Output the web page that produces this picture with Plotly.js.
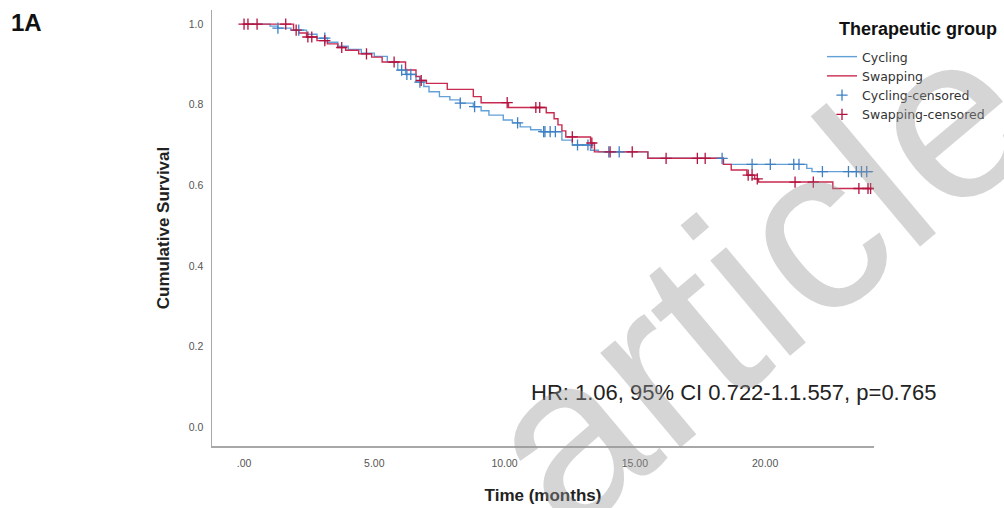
<!DOCTYPE html>
<html>
<head>
<meta charset="utf-8">
<script src="https://cdn.plot.ly/plotly-3.0.1.min.js"></script>
<style>html,body{margin:0;padding:0;background:#fff;}#chart{width:1004px;height:508px;}</style>
</head>
<body>
<div id="chart"></div>
<script>
// ---- data (time in months, cumulative survival) ----
const cyclingTimes = [0, 1.0, 1.3, 1.8, 2.4, 2.8, 3.2, 3.6, 4.0, 4.5, 5.0, 5.5, 5.9, 6.2, 6.6, 6.9, 7.1, 7.5, 7.9, 8.3, 8.8, 9.1, 9.4, 9.95, 10.3, 10.6, 11.0, 11.4, 12.2, 12.6, 13.3, 13.6, 15.5, 18.4, 21.6, 21.8, 24.15];
const cyclingSurv  = [1.0, 0.995, 0.99, 0.985, 0.975, 0.965, 0.955, 0.945, 0.937, 0.928, 0.92, 0.905, 0.886, 0.875, 0.856, 0.845, 0.832, 0.82, 0.812, 0.804, 0.795, 0.785, 0.774, 0.762, 0.755, 0.745, 0.738, 0.733, 0.712, 0.70, 0.687, 0.683, 0.667, 0.652, 0.642, 0.634, 0.634];
const cyclingCensored = [1.3, 2.1, 3.1, 6.05, 6.25, 6.4, 6.75, 8.3, 8.85, 10.5, 11.5, 11.55, 11.75, 11.95, 12.8, 13.2, 14.0, 14.4, 18.35, 19.5, 20.2, 21.1, 21.3, 22.2, 23.2, 23.5, 23.7, 23.9];

const swappingTimes = [0, 1.9, 2.1, 2.4, 2.8, 3.2, 3.6, 3.9, 4.4, 4.9, 5.3, 6.2, 6.6, 6.75, 7.0, 7.8, 8.8, 9.1, 10.15, 11.6, 11.9, 12.05, 12.2, 12.35, 13.3, 13.45, 15.5, 18.4, 18.7, 19.3, 19.6, 19.75, 22.6, 24.1];
const swappingSurv  = [1.0, 0.985, 0.978, 0.968, 0.959, 0.951, 0.942, 0.935, 0.926, 0.918, 0.906, 0.886, 0.87, 0.86, 0.853, 0.838, 0.82, 0.805, 0.793, 0.78, 0.765, 0.75, 0.735, 0.72, 0.705, 0.683, 0.667, 0.652, 0.638, 0.625, 0.616, 0.608, 0.592, 0.592];
const swappingCensored = [0.0, 0.15, 0.5, 1.6, 2.0, 2.45, 2.6, 3.1, 3.75, 4.7, 5.76, 6.8, 10.1, 11.2, 11.35, 12.6, 13.35, 14.05, 14.9, 16.2, 17.4, 17.7, 19.35, 19.5, 19.7, 21.15, 21.85, 23.6, 23.95, 24.05];

const xTickVals = [0, 5, 10, 15, 20];
const xTickText = ['.00', '5.00', '10.00', '15.00', '20.00'];
const yTickVals = [0, 0.2, 0.4, 0.6, 0.8, 1.0];
const yTickText = ['0.0', '0.2', '0.4', '0.6', '0.8', '1.0'];

const groupNames = ['Cycling', 'Swapping', 'Cycling-censored', 'Swapping-censored'];
const legendTitle = 'Therapeutic group';
const hrText = 'HR: 1.06, 95% CI 0.722-1.1.557, p=0.765';

// ---- helpers ----
function stepValue(times, surv, t) {
  let v = surv[0];
  for (let i = 0; i < times.length; i++) { if (times[i] <= t) v = surv[i]; else break; }
  return v;
}

const colCyc = '#62a1d8', colSwp = '#c92a50';
const colCycC = '#3f80c4', colSwpC = '#b3123f';

const traces = [
  {x: cyclingTimes, y: cyclingSurv, mode: 'lines', name: groupNames[0],
   line: {shape: 'hv', color: colCyc, width: 1.4}, hoverinfo: 'skip'},
  {x: swappingTimes, y: swappingSurv, mode: 'lines', name: groupNames[1],
   line: {shape: 'hv', color: colSwp, width: 1.4}, hoverinfo: 'skip'},
  {x: cyclingCensored, y: cyclingCensored.map(t => stepValue(cyclingTimes, cyclingSurv, t)),
   mode: 'markers', name: groupNames[2],
   marker: {symbol: 'cross-thin', size: 8, color: colCycC, line: {color: colCycC, width: 1.3}}},
  {x: swappingCensored, y: swappingCensored.map(t => stepValue(swappingTimes, swappingSurv, t)),
   mode: 'markers', name: groupNames[3],
   marker: {symbol: 'cross-thin', size: 8, color: colSwpC, line: {color: colSwpC, width: 1.3}}}
];

const L = 212, R = 874, T = 10, B = 446, W = 1004, H = 508;
const pw = R - L, ph = B - T;
const pxX = p => (p - L) / pw;
const pxY = p => (B - p) / ph;

const baseFont = 'Liberation Sans, Arial, sans-serif';

const layout = {
  width: W, height: H,
  margin: {l: L, r: W - R, t: T, b: H - B, pad: 0},
  paper_bgcolor: '#ffffff', plot_bgcolor: '#ffffff',
  font: {family: baseFont, color: '#333'},
  showlegend: true,
  legend: {
    x: pxX(822), y: pxY(42), xanchor: 'left', yanchor: 'top',
    font: {size: 12.5, color: '#333', family: 'DejaVu Sans, sans-serif'},
    bgcolor: 'rgba(0,0,0,0)', itemwidth: 30, tracegroupgap: 0, traceorder: 'normal'
  },
  xaxis: {
    range: [-1.23, 24.18], tickvals: xTickVals, ticktext: xTickText,
    showline: true, linecolor: '#a8a8a8', linewidth: 1.5, showgrid: false, zeroline: false,
    ticks: '', tickfont: {size: 10.5, color: '#555'}, ticklabelstandoff: 7,
    title: {text: 'Time (months)', font: {size: 17, weight: 'bold', color: '#222'}, standoff: 21}
  },
  yaxis: {
    range: [-0.047, 1.035], tickvals: yTickVals, ticktext: yTickText,
    showline: true, linecolor: '#a8a8a8', linewidth: 1.5, showgrid: false, zeroline: false,
    ticks: '', tickfont: {size: 10.5, color: '#555'}, ticklabelstandoff: 5,
    title: {text: 'Cumulative Survival', font: {size: 17, weight: 'bold', color: '#222'}, standoff: 15}
  },
  annotations: [
    {text: legendTitle, xref: 'paper', yref: 'paper', x: pxX(837), y: pxY(29), xanchor: 'left', yanchor: 'middle',
     showarrow: false, font: {size: 18, weight: 'bold', color: '#111', family: baseFont}},
    {text: '1A', xref: 'paper', yref: 'paper', x: pxX(9), y: pxY(23), xanchor: 'left', yanchor: 'middle',
     showarrow: false, font: {size: 24, weight: 'bold', color: '#111', family: baseFont}},
    {text: hrText, xref: 'paper', yref: 'paper', x: pxX(529), y: pxY(392), xanchor: 'left', yanchor: 'middle',
     showarrow: false, font: {size: 22, color: '#222', family: baseFont}},
    {text: 'article', xref: 'paper', yref: 'paper', x: pxX(755), y: pxY(278), xanchor: 'center', yanchor: 'middle',
     showarrow: false, textangle: -40, font: {size: 235, color: 'rgba(150,150,150,0.40)', family: baseFont}}
  ]
};

Plotly.newPlot('chart', traces, layout, {staticPlot: true, displayModeBar: false});
</script>
</body>
</html>
